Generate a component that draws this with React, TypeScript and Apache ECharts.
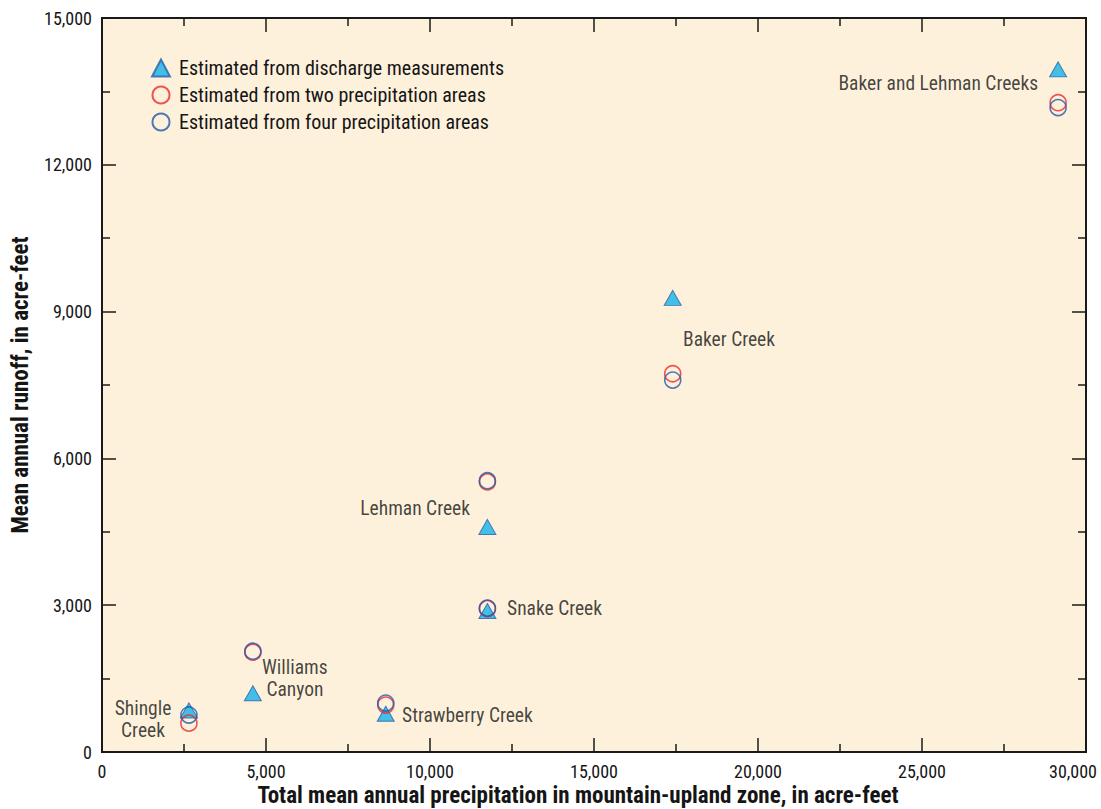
import React, { useEffect, useRef } from "react";
import * as echarts from "echarts";

// Total mean annual precipitation (x) vs mean annual runoff (y), acre-feet
const discharge: number[][] = [
  [2650, 850], [4600, 1200], [8650, 780], [11750, 2880], [11750, 4600], [17400, 9280], [29150, 13950],
];
const twoAreas: number[][] = [
  [2650, 590], [4600, 2040], [8650, 960], [11750, 2930], [11750, 5520], [17400, 7730], [29150, 13270],
];
const fourAreas: number[][] = [
  [2650, 756], [4600, 2060], [8650, 1000], [11750, 2940], [11750, 5545], [17400, 7600], [29150, 13170],
];

const seriesNames = [
  "Estimated from discharge measurements",
  "Estimated from two precipitation areas",
  "Estimated from four precipitation areas",
];

const siteLabels = [
  "Baker and Lehman Creeks",
  "Baker Creek",
  "Lehman Creek",
  "Snake Creek",
  "Williams\n Canyon",
  "Shingle\nCreek",
  "Strawberry Creek",
];
const siteLabelCoords: number[][] = [
  [28540, 13670], [17713, 8421], [11220, 4967], [12348, 2923],
  [4878, 1502], [1250, 665], [9147, 756],
];
const siteLabelAlign = ["right", "left", "right", "left", "left", "center", "left"];

const xTicks = { min: 0, max: 30000, interval: 5000 };
const yTicks = { min: 0, max: 15000, interval: 3000 };

const FONT = "'Liberation Sans Narrow', 'Roboto Condensed', Roboto, sans-serif";
const INK = "#151515";

export default function App() {
  const ref = useRef<HTMLDivElement>(null);
  useEffect(() => {
    if (!ref.current) return;
    const chart = echarts.init(ref.current, null, { renderer: "svg" });
    const fmt = (v: number) => v.toLocaleString("en-US");
    const labelFont = { fontSize: 18, color: INK, fontFamily: FONT };
    const baseAxis = (pos: string, t: any, showLabel: boolean, isX: boolean) => ({
      type: "value",
      position: pos,
      min: t.min,
      max: t.max,
      interval: t.interval,
      axisLine: { show: true, onZero: false, lineStyle: { color: "#1a1a1a", width: 2 } },
      axisTick: { show: true, inside: true, length: 14, lineStyle: { color: "#1a1a1a", width: 1.5 } },
      minorTick: { show: true, splitNumber: 2, length: 8, lineStyle: { color: "#1a1a1a", width: 1.5 } },
      splitLine: { show: false },
      axisLabel: {
        show: showLabel,
        formatter: (v: number) =>
          isX && v === t.max ? "{last|" + fmt(v) + "}" : fmt(v),
        ...labelFont,
        margin: 10,
        rich: { last: { ...labelFont, padding: [0, 26, 0, 0] } },
      },
    });
    chart.setOption({
      animation: false,
      backgroundColor: "#ffffff",
      grid: {
        left: 102, right: 15, top: 18, bottom: 57,
        outerBoundsMode: "none",
        containLabel: false,
        show: true, backgroundColor: "#FEF1DC", borderColor: "#1a1a1a", borderWidth: 2,
      },
      xAxis: [baseAxis("bottom", xTicks, true, true), baseAxis("top", xTicks, false, true)],
      yAxis: [baseAxis("left", yTicks, true, false), baseAxis("right", yTicks, false, false)],
      legend: {
        orient: "vertical",
        left: 151,
        top: 57,
        padding: 0,
        itemGap: 5,
        itemWidth: 18,
        itemHeight: 17,
        data: seriesNames,
        textStyle: { fontSize: 20, lineHeight: 22, color: INK, fontFamily: FONT, padding: [0, 0, 0, 4] },
      },
      graphic: [
        {
          type: "text",
          style: {
            text: "Total mean annual precipitation in mountain-upland zone, in acre-feet",
            fontSize: 23, fontWeight: "bold", fontFamily: FONT, fill: INK,
            x: 578, y: 795, align: "center", verticalAlign: "middle",
          },
        },
        {
          type: "text",
          x: 20, y: 385, rotation: Math.PI / 2,
          style: {
            text: "Mean annual runoff, in acre-feet",
            fontSize: 23, fontWeight: "bold", fontFamily: FONT, fill: INK,
            x: 0, y: 0, align: "center", verticalAlign: "middle",
          },
        },
      ],
      series: [
        {
          name: seriesNames[0], type: "scatter", symbol: "triangle", symbolSize: [17, 15],
          itemStyle: { color: "#12B3EA", borderColor: "#2B5FA6", borderWidth: 1 },
          data: discharge, z: 2,
        },
        {
          name: seriesNames[1], type: "scatter", symbol: "circle", symbolSize: 16,
          itemStyle: { color: "rgba(0,0,0,0)", borderColor: "#EC2B30", borderWidth: 1.6 },
          data: twoAreas, z: 3,
        },
        {
          name: seriesNames[2], type: "scatter", symbol: "circle", symbolSize: 16,
          itemStyle: { color: "rgba(0,0,0,0)", borderColor: "#2459A6", borderWidth: 1.6 },
          data: fourAreas, z: 4,
        },
        {
          name: "labels", type: "scatter", symbolSize: 0, silent: true, z: 5,
          data: siteLabels.map((t, i) => ({
            value: siteLabelCoords[i],
            label: {
              show: true,
              formatter: t,
              position: siteLabelAlign[i] === "right" ? "left" : siteLabelAlign[i] === "left" ? "right" : "inside",
              distance: 0,
              fontSize: 19.5,
              lineHeight: 22,
              align: siteLabelAlign[i],
              verticalAlign: "middle",
              color: INK,
              fontFamily: FONT,
            },
          })),
        },
      ],
    });
    return () => chart.dispose();
  }, []);
  return <div ref={ref} style={{ position: "fixed", left: 0, top: 0, width: 1101, height: 809 }} />;
}
